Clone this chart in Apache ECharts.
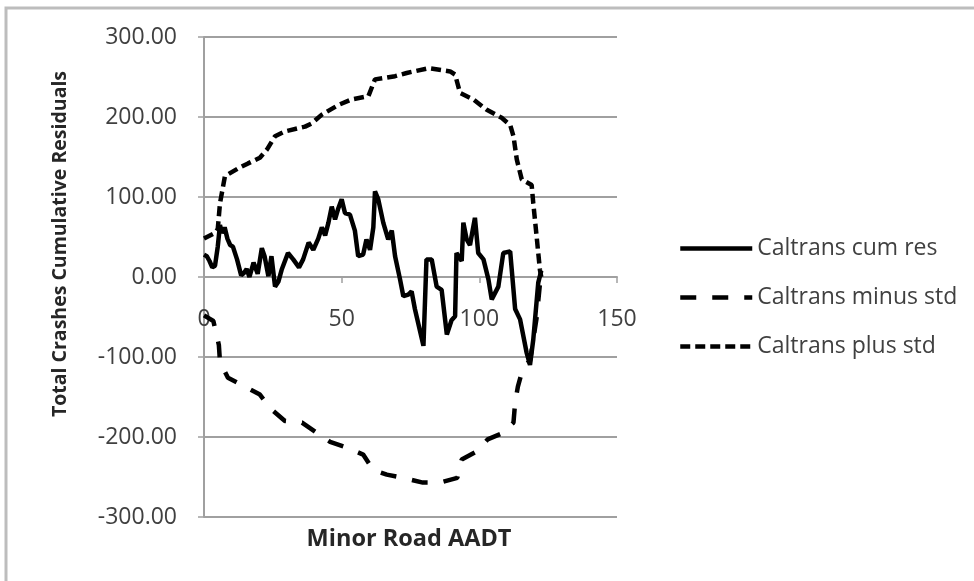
<!DOCTYPE html>
<html>
<head>
<meta charset="utf-8">
<script src="https://cdn.jsdelivr.net/npm/echarts@6/dist/echarts.min.js"></script>
<style>
html,body{margin:0;padding:0;background:#fff;}
#chart{width:974px;height:581px;}
</style>
</head>
<body>
<div id="chart"></div>
<script>
var seriesNames = ['Caltrans cum res', 'Caltrans minus std', 'Caltrans plus std'];
var xTicks = [0, 50, 100, 150];
var yTicks = [-300, -200, -100, 0, 100, 200, 300];

var cumResX = [0,1,2,3,4,5,5.8,6.5,7.5,8.5,9.5,10.5,12,13.5,14.5,15.5,16.5,18,19.5,21,22,23.4,24.5,25.8,27,28.2,30.5,32.4,34.5,36,38,39.7,41.5,42.8,44,45.2,46.4,47.6,48.8,50,51.2,53,54.8,56,57.8,59,60.3,61.5,62.1,63.3,65.1,66.9,68.2,69.4,71.2,72.4,74.2,75.4,76.6,79.7,80.8,82.7,84.5,86.3,88.2,89.9,91.2,91.7,93.6,94.2,95.4,96.6,98.4,99.6,101.5,103.3,104.5,106.9,108.7,111.2,113,114.8,117.2,118.4,119.6,121.4,122.5];
var cumResY = [28,26,20,12,14,38,65,55,62,48,40,38,22,2,5,10,0,18,4,36,26,1,26,-12,-6,9,30,22,12,22,43,34,48,62,52,68,88,72,86,97,80,78,58,26,28,47,34,62,107,97,68,47,58,26,-3,-24,-22,-18,-40,-86,22,22,-12,-16,-72,-54,-49,30,20,68,47,40,74,30,22,-3,-28,-12,30,32,-40,-53,-95,-110,-78,-7,8];

var minusX = [0,3.4,5.4,5.8,8.7,14.9,20.3,24,29.4,35.6,41,45.8,51.8,57.8,61.4,66.4,72.3,79.5,85.7,92,93.6,99,103,108.6,112.4,113,114,116,118.4,120.8,122,122.5];
var minusY = [-48,-55,-85,-106,-126,-137,-147,-164,-180,-182,-195,-206,-213,-222,-241,-247,-251,-257,-257,-251,-228,-218,-203,-195,-182,-157,-137,-112,-105,-51,-9,0];

var plusX = [0,4,5,5.8,7.6,12.5,16,20.3,22.8,25.8,29.4,36.7,39.1,42.8,48.8,53.6,59.7,62.1,69.4,73.6,81.5,89.4,91.2,93,97.8,102.7,108.1,111.2,112.4,113.6,115.4,119,119.6,120.8,122,122.5];
var plusY = [48,55,60,92,126,136,142,149,159,176,182,188,192,203,215,222,226,247,251,255,261,257,253,230,222,209,199,190,176,147,122,115,92,51,9,0];

function pairs(xs, ys) { return xs.map(function (x, i) { return [x, ys[i]]; }); }

var FONT = 'Open Sans';
var chart = echarts.init(document.getElementById('chart'), null, {renderer: 'canvas'});
var lineW = 4.5;
var option = {
  backgroundColor: '#fff',
  animation: false,
  textStyle: {fontFamily: FONT},
  grid: {left: 204, right: 357, top: 37, bottom: 64, containLabel: false},
  xAxis: {
    type: 'value', min: xTicks[0], max: xTicks[xTicks.length - 1], interval: 50,
    offset: -240,
    axisLine: {show: true, onZero: false, lineStyle: {color: '#a0a0a0', width: 2}},
    axisTick: {show: true, length: 6, lineStyle: {color: '#a0a0a0', width: 1.5}},
    axisLabel: {margin: 31, color: '#404040', fontSize: 23, fontFamily: FONT},
    splitLine: {show: false}
  },
  yAxis: {
    type: 'value', min: yTicks[0], max: yTicks[yTicks.length - 1], interval: 100,
    axisLine: {show: true, onZero: false, lineStyle: {color: '#a0a0a0', width: 2}},
    axisTick: {show: true, length: 6, lineStyle: {color: '#a0a0a0', width: 1.5}},
    axisLabel: {margin: 27, color: '#404040', fontSize: 23, fontFamily: FONT,
      formatter: function (v) { return v.toFixed(2); }},
    splitLine: {show: true, lineStyle: {color: '#a0a0a0', width: 2}}
  },
  legend: {
    orient: 'vertical', left: 678, top: 237, padding: 0,
    itemWidth: 72, itemHeight: 14, itemGap: 26,
    itemStyle: {opacity: 0},
    lineStyle: {width: 4.5},
    textStyle: {color: '#404040', fontSize: 23, fontFamily: FONT},
    data: seriesNames
  },
  graphic: [
    {type: 'rect', shape: {x: 6, y: 8, width: 1100, height: 1000}, style: {fill: 'none', stroke: '#bdbdbd', lineWidth: 3}, silent: true},
    {type: 'text', x: 60, y: 244, rotation: Math.PI / 2,
      style: {text: 'Total Crashes Cumulative Residuals', fill: '#262626', font: 'bold 19.5px "Open Sans"', textAlign: 'center', textVerticalAlign: 'middle'}},
    {type: 'text', x: 409, y: 539,
      style: {text: 'Minor Road AADT', fill: '#262626', font: 'bold 23.5px "Open Sans"', textAlign: 'center', textVerticalAlign: 'middle'}}
  ],
  series: [
    {name: seriesNames[0], type: 'line', data: pairs(cumResX, cumResY), showSymbol: false, symbol: 'none',
      lineStyle: {color: '#000', width: lineW, type: 'solid'}, itemStyle: {color: '#000'}, z: 3},
    {name: seriesNames[1], type: 'line', data: pairs(minusX, minusY), showSymbol: false, symbol: 'none',
      lineStyle: {color: '#000', width: lineW, type: [16, 16]}, itemStyle: {color: '#000'}, z: 2},
    {name: seriesNames[2], type: 'line', data: pairs(plusX, plusY), showSymbol: false, symbol: 'none',
      lineStyle: {color: '#000', width: lineW, type: [10, 5]}, itemStyle: {color: '#000'}, z: 2}
  ]
};
chart.setOption(option);
</script>
</body>
</html>
